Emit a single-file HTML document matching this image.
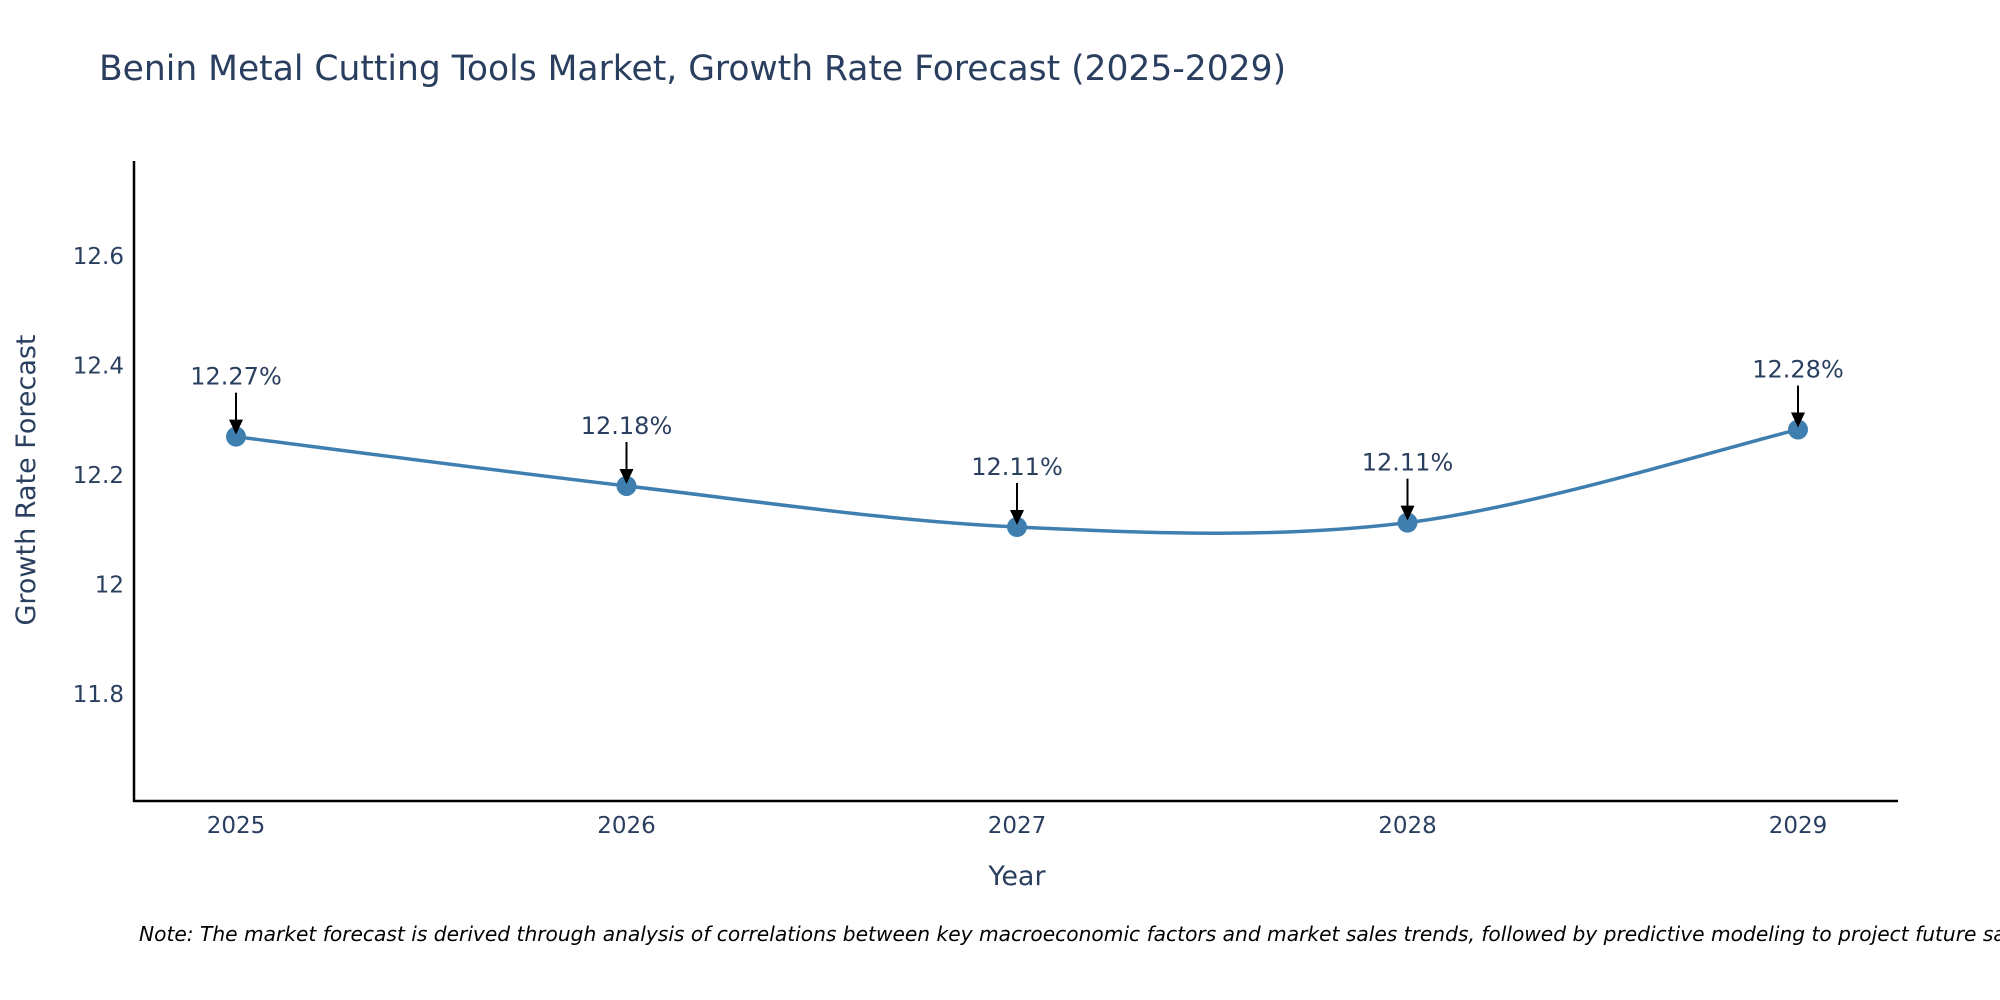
<!DOCTYPE html>
<html><head><meta charset="utf-8">
<style>
html,body{margin:0;padding:0;background:#fff;}
svg{display:block;font-family:"DejaVu Sans","Liberation Sans",sans-serif;}
</style></head>
<body>
<svg id="chart" width="2000" height="1000" viewBox="0 0 2000 1000" xmlns="http://www.w3.org/2000/svg">
<text x="99" y="80" font-size="34.5" fill="#2a3f5f">Benin Metal Cutting Tools Market, Growth Rate Forecast (2025-2029)</text>
<g id="yticks"></g>
<g id="xticks"></g>
<line x1="134" y1="161" x2="134" y2="802" stroke="#000" stroke-width="2.5"/>
<line x1="133" y1="801" x2="1898" y2="801" stroke="#000" stroke-width="2.5"/>
<text transform="translate(35,480) rotate(-90)" text-anchor="middle" font-size="27" fill="#2a3f5f">Growth Rate Forecast</text>
<text x="1017" y="885" text-anchor="middle" font-size="27" fill="#2a3f5f">Year</text>
<g id="series"></g>
<g id="annots"></g>
<text x="139" y="941" font-size="20.2" font-style="italic" fill="#000">Note: The market forecast is derived through analysis of correlations between key macroeconomic factors and market sales trends, followed by predictive modeling to project future sales.</text>
</svg>
<script>
const years = [2025, 2026, 2027, 2028, 2029];
const growth = [12.27, 12.18, 12.105, 12.113, 12.283];
const valueLabels = ["12.27%", "12.18%", "12.11%", "12.11%", "12.28%"];
const yTickValues = [11.8, 12, 12.2, 12.4, 12.6];
const yTickLabels = ["11.8", "12", "12.2", "12.4", "12.6"];

const NS = "http://www.w3.org/2000/svg";
function xs(v){ return 236 + (v - 2025) * (1798 - 236) / 4; }
function ys(v){ return 694 - (v - 11.8) * (694 - 256) / 0.8; }
function mk(tag, attrs, parent){ const e = document.createElementNS(NS, tag); for (const k in attrs) e.setAttribute(k, attrs[k]); parent.appendChild(e); return e; }

const yt = document.getElementById('yticks');
yTickValues.forEach((v, i) => {
  const t = mk('text', {x: 124, y: ys(v) + 8, 'text-anchor': 'end', 'font-size': 23, fill: '#2a3f5f'}, yt);
  
  
  t.textContent = yTickLabels[i];
});
const xt = document.getElementById('xticks');
years.forEach(v => {
  const t = mk('text', {x: xs(v), y: 833, 'text-anchor': 'middle', 'font-size': 23, fill: '#2a3f5f'}, xt);
  
  
  t.textContent = String(v);
});

const pts = years.map((y, i) => [xs(y), ys(growth[i])]);
let d = 'M' + pts[0][0] + ',' + pts[0][1];
const s = 1/6;
for (let i = 0; i < pts.length - 1; i++) {
  const p0 = pts[Math.max(0, i-1)], p1 = pts[i], p2 = pts[i+1], p3 = pts[Math.min(pts.length-1, i+2)];
  const c1 = [p1[0] + (p2[0]-p0[0])*s, p1[1] + (p2[1]-p0[1])*s];
  const c2 = [p2[0] - (p3[0]-p1[0])*s, p2[1] - (p3[1]-p1[1])*s];
  d += ' C' + c1 + ' ' + c2 + ' ' + p2;
}
const ser = document.getElementById('series');
const line = mk('path', {d: d, fill: 'none', stroke: '#3f7fb0', 'stroke-width': 3.5}, ser);


pts.forEach(p => {
  const c = mk('circle', {cx: p[0], cy: p[1], r: 10, fill: '#3f7fb0'}, ser);
  
  
});

const an = document.getElementById('annots');
pts.forEach((p, i) => {
  const g = mk('g', {}, an);
  
  
  mk('line', {x1: p[0], y1: p[1] - 44, x2: p[0], y2: p[1] - 14, stroke: '#000', 'stroke-width': 2}, g);
  mk('polygon', {points: (p[0]-7)+','+(p[1]-17)+' '+(p[0]+7)+','+(p[1]-17)+' '+p[0]+','+(p[1]-2), fill: '#000'}, g);
  const t = mk('text', {x: p[0], y: p[1] - 52, 'text-anchor': 'middle', 'font-size': 24, fill: '#2a3f5f'}, g);
  t.textContent = valueLabels[i];
});
</script>
</body></html>
